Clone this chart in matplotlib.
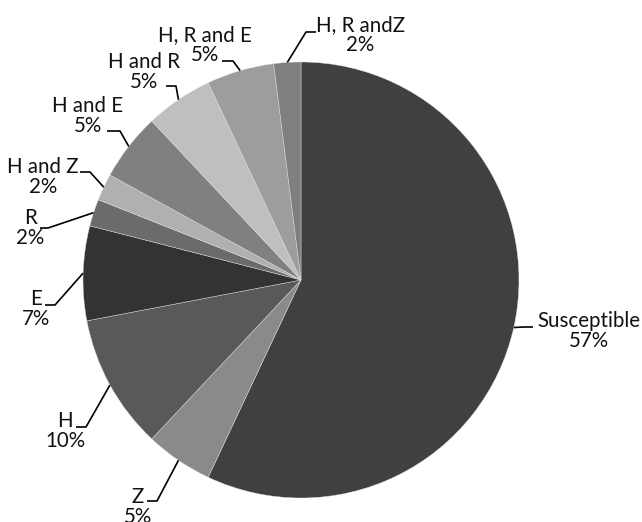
import numpy as np
import matplotlib.pyplot as plt

plt.rcParams['font.family'] = ['Lato', 'DejaVu Sans']

categories = ['Susceptible', 'Z', 'H', 'E', 'R', 'H and Z', 'H and E',
              'H and R', 'H, R and E', 'H, R andZ']
percent = [57, 5, 10, 7, 2, 2, 5, 5, 5, 2]
shades = ['#404040', '#8a8a8a', '#595959', '#333333', '#6b6b6b', '#b0b0b0',
          '#808080', '#bfbfbf', '#9d9d9d', '#7f7f7f']

# label layout in pixels from the top-left corner of the image
label_xy = [(589, 331), (138, 507), (65, 431), (36, 309), (30, 228),
            (43, 177), (88, 116), (144, 72), (205, 45), (360, 35)]
elbow_xy = [(523, 327), (157, 501), (86, 427), (55, 305), (48, 228),
            (90, 172), (120, 131), (176, 86), (233, 61), (306, 32)]
end_x = [533, 147, 76, 45, 40, 80, 107, 166, 222, 316]

W, H = 642, 522
cx, cy, r = 301, H - 280, 218


def flip(y):
    return H - y


fig = plt.figure(figsize=(W / 100, H / 100), dpi=100)
ax = fig.add_axes([0, 0, 1, 1])

wedges, _ = ax.pie(percent, colors=shades, startangle=90, counterclock=False,
                   center=(cx, cy), radius=r,
                   wedgeprops=dict(edgecolor='#e0e0e0', linewidth=0.3))

for w, name, pct, (tx, ty), (ex, ey), xe in zip(wedges, categories, percent,
                                                 label_xy, elbow_xy, end_x):
    mid = np.deg2rad((w.theta1 + w.theta2) / 2)
    px, py = cx + r * np.cos(mid), cy + r * np.sin(mid)
    ax.plot([px, ex, xe], [py, flip(ey), flip(ey)], color='black', lw=1.2,
            solid_capstyle='butt')
    ax.text(tx, flip(ty), f'{name}\n{pct}%', ha='center', va='center',
            multialignment='center', fontsize=14.8, linespacing=0.95,
            color='#111111')

ax.set_xlim(0, W)
ax.set_ylim(0, H)
ax.set_aspect('equal')
ax.axis('off')

fig.savefig('out.png', dpi=100, facecolor='white')
